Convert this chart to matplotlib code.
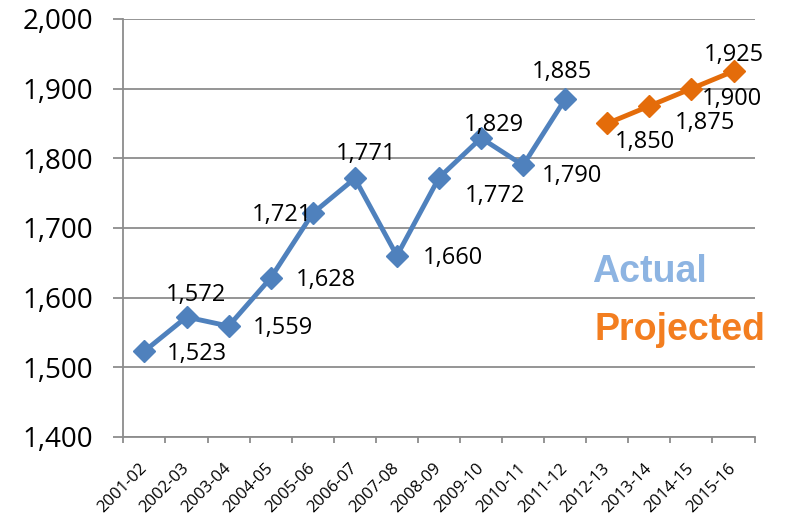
import numpy as np
import matplotlib.pyplot as plt
import matplotlib.transforms as mtransforms

# school years on the x axis
years = ['2001-02', '2002-03', '2003-04', '2004-05', '2005-06', '2006-07', '2007-08',
         '2008-09', '2009-10', '2010-11', '2011-12', '2012-13', '2013-14', '2014-15', '2015-16']

# actual values (first 11 years) and projected values (last 4 years)
actual = [1523, 1572, 1559, 1628, 1721, 1771, 1660, 1772, 1829, 1790, 1885]
projected = [1850, 1875, 1900, 1925]

# label offsets in points (dx, dy) for each data label
actual_offsets = [(38, -2), (7, 15.5), (39, -1.5), (40, -1.5), (-22, -1.5), (8, 17.5),
                  (40, -1.5), (40, -13), (9, 9.5), (35, -8), (-2, 19.5)]
projected_offsets = [(27, -13.5), (40, -12.5), (29, -7.5), (0, 11.5)]

plt.rcParams['font.family'] = ['Open Sans', 'DejaVu Sans']

fig = plt.figure(figsize=(7.86, 5.2), dpi=100)
ax = fig.add_axes([0.157, 0.16, 0.803, 0.8035])

x_act = np.arange(len(actual))
x_proj = np.arange(len(actual), len(actual) + len(projected))

blue = '#4F81BD'
orange = '#E46C0A'

ax.plot(x_act, actual, color=blue, lw=3.5, marker='D', ms=11, zorder=3)
ax.plot(x_proj, projected, color=orange, lw=3.5, marker='D', ms=11, zorder=3)

for xi, v, off in zip(x_act, actual, actual_offsets):
    ax.annotate(f'{v:,}', (xi, v), xytext=off, textcoords='offset points',
                ha='center', va='center', fontsize=17, zorder=4)
for xi, v, off in zip(x_proj, projected, projected_offsets):
    ax.annotate(f'{v:,}', (xi, v), xytext=off, textcoords='offset points',
                ha='center', va='center', fontsize=17, zorder=4)

ax.set_xlim(-0.5, len(years) - 0.5)
ax.set_ylim(1400, 2000)
ax.set_yticks(range(1400, 2001, 100))
ax.set_yticklabels([f'{v:,}' for v in range(1400, 2001, 100)], fontsize=20)
ax.yaxis.grid(True, color='#8C8C8C', lw=1.3)
ax.set_axisbelow(True)

ax.set_xticks(np.arange(len(years)))
ax.set_xticklabels(years, rotation=45, ha='right', va='center',
                   rotation_mode='anchor', fontsize=12)
shift = mtransforms.ScaledTranslation(5 / 72, -2 / 72, fig.dpi_scale_trans)
for lbl in ax.get_xticklabels():
    lbl.set_transform(lbl.get_transform() + shift)
ax.set_xticks(np.arange(-0.5, len(years)), minor=True)
ax.tick_params(axis='x', which='major', length=0, pad=21)
ax.tick_params(axis='x', which='minor', length=4.5, color='#8C8C8C', width=1.3)
ax.tick_params(axis='y', length=7, color='#8C8C8C', width=1.3, pad=15)

for side in ['top', 'right']:
    ax.spines[side].set_visible(False)
for side in ['left', 'bottom']:
    ax.spines[side].set_color('#8C8C8C')
    ax.spines[side].set_linewidth(1.3)

ax.text(0.834, 0.371, 'Actual', transform=ax.transAxes, color='#8DB4E2',
        fontsize=27, fontweight='bold', family='Liberation Sans',
        ha='center', va='baseline')
ax.text(0.881, 0.232, 'Projected', transform=ax.transAxes, color='#F37E20',
        fontsize=27, fontweight='bold', family='Liberation Sans',
        ha='center', va='baseline')

fig.savefig('out.png', dpi=100)
